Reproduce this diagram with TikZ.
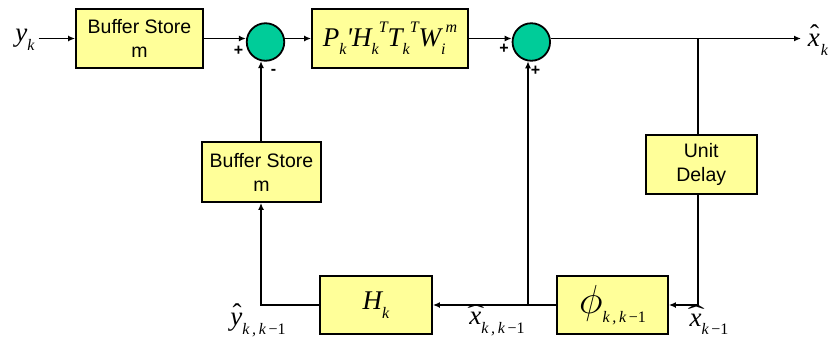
\documentclass[tikz,border=0pt]{standalone}
\usepackage{fix-cm}
\usepackage{fontspec}
\usepackage{graphicx}
\setmainfont{Liberation Sans}
\newfontfamily\tms{Liberation Serif}
\usetikzlibrary{arrows.meta}
\definecolor{boxyellow}{HTML}{FFFF99}
\definecolor{sumgreen}{HTML}{00CC99}
\newcommand\mv[1]{{\tms\itshape #1}}
\newcommand\lo[1]{\raisebox{-0.32em}{\fontsize{16}{16}\selectfont\tms\itshape #1}}
\newcommand\hi[1]{\raisebox{0.5em}{\fontsize{16}{16}\selectfont\tms\itshape #1}}
\newcommand\hatt[2][0pt]{{\setbox0\hbox{#2}\rlap{\hbox to\wd0{\hss\kern#1\raisebox{0.12em}{\tms ˆ}\hss}}\box0}}
\newcommand\whatt[2][0pt]{{\setbox0\hbox{#2}\rlap{\hbox to\wd0{\hss\kern#1\raisebox{0.14em}{\scalebox{1.9}[0.9]{\tms ˆ}}\hss}}\box0}}
\begin{document}
\begin{tikzpicture}[x=1pt,y=-1pt,
  blk/.style={draw,line width=1.8pt,fill=boxyellow,inner sep=0pt,align=center,
    font=\fontsize{19.5}{24}\selectfont},
  sumnode/.style={circle,draw,line width=1.8pt,fill=sumgreen,minimum size=37.5pt,inner sep=0pt},
  mathlbl/.style={inner sep=0pt,font=\fontsize{27}{27}\selectfont},
  sgn/.style={inner sep=0pt,font=\fontsize{16}{16}\selectfont\bfseries},
  ln/.style={line width=1.4pt},
  arr/.style={line width=1.4pt,-{Latex[length=7pt,width=6pt]}}]
\useasboundingbox (0,0) rectangle (832,345);
% top row
\node[mathlbl] (yk) at (25,40) {\mv{y}\lo{k}};
\node[blk,minimum width=127pt,minimum height=59pt] (buf1) at (139.5,38.5) {Buffer Store\\m};
\node[sumnode] (c1) at (265.5,42) {};
\node[blk,minimum width=156pt,minimum height=59pt,font=\fontsize{27}{27}\selectfont] (pb) at (390,38.5)
  {\mv{P}\lo{k}\mv{'}\mv{H}\lo{k}\hi{T}\mv{T}\lo{k}\hi{T}\mv{W}\lo{i}\hi{m}};
\node[sumnode] (c2) at (531.3,42) {};
\coordinate (out) at (801,38.5);
\node[mathlbl] (xk) at (818,40) {\hatt[1.5pt]{\mv{x}}\kern1pt\lo{k}};
\coordinate (br) at (698,38.5);
% right column
\node[blk,minimum width=111pt,minimum height=59pt] (ud) at (701.2,164.5) {Unit\\Delay};
\coordinate (j1) at (698,305);
% bottom row
\node[blk,minimum width=111pt,minimum height=58pt] (phi) at (612.5,305)
  {\fontsize{27}{27}\selectfont\scalebox{1.5}{$\phi$}\lo{k\,,\,k\,{\tms\upshape−1}}};
\coordinate (j2) at (528,305);
\node[blk,minimum width=112pt,minimum height=58pt] (H) at (376,305)
  {\fontsize{27}{27}\selectfont\mv{H}\lo{k}};
\coordinate (j3) at (261,305);
\node[blk,minimum width=119pt,minimum height=60pt] (buf2) at (261.5,172) {Buffer Store\\m};
% labels
\node[mathlbl] (yl) at (258,320) {\hatt[1.5pt]{\mv{y}}\lo{k\,,\,k\,{\tms\upshape−1}}};
\node[mathlbl] (xl1) at (497,320) {\whatt[1pt]{\mv{x}}\lo{k\,,\,k\,{\tms\upshape−1}}};
\node[mathlbl] (xl2) at (709,320) {\whatt[1pt]{\mv{x}}\lo{k\,{\tms\upshape−1}}};
% signs
\node[sgn] (s1) at (238.5,51) {+};
\node[sgn] (s2) at (273.5,72) {-};
\node[sgn] (s3) at (504,49) {+};
\node[sgn] (s4) at (535.5,71) {+};
% connectors
\draw[arr] (buf1.west -| yk.east) ++(4,0) -- (buf1.west);
\draw[arr] (buf1.east) -- (buf1.east -| c1.west);
\draw[arr] (pb.west -| c1.east) -- (pb.west);
\draw[arr] (pb.east) -- (pb.east -| c2.west);
\draw[arr] (pb.east -| c2.east) -- (out);
\draw[ln] (br) -- (br |- ud.north);
\draw[arr] (ud.south -| br) -- (j1) -- (phi.east);
\draw[arr] (phi.west) -- (H.east);
\draw[arr] (j2) -- (j2 |- c2.259);
\draw[arr] (H.west) -- (j3) -- (j3 |- buf2.south);
\draw[arr] (buf2.north -| j3) -- (j3 |- c1.256);
\end{tikzpicture}
\end{document}
